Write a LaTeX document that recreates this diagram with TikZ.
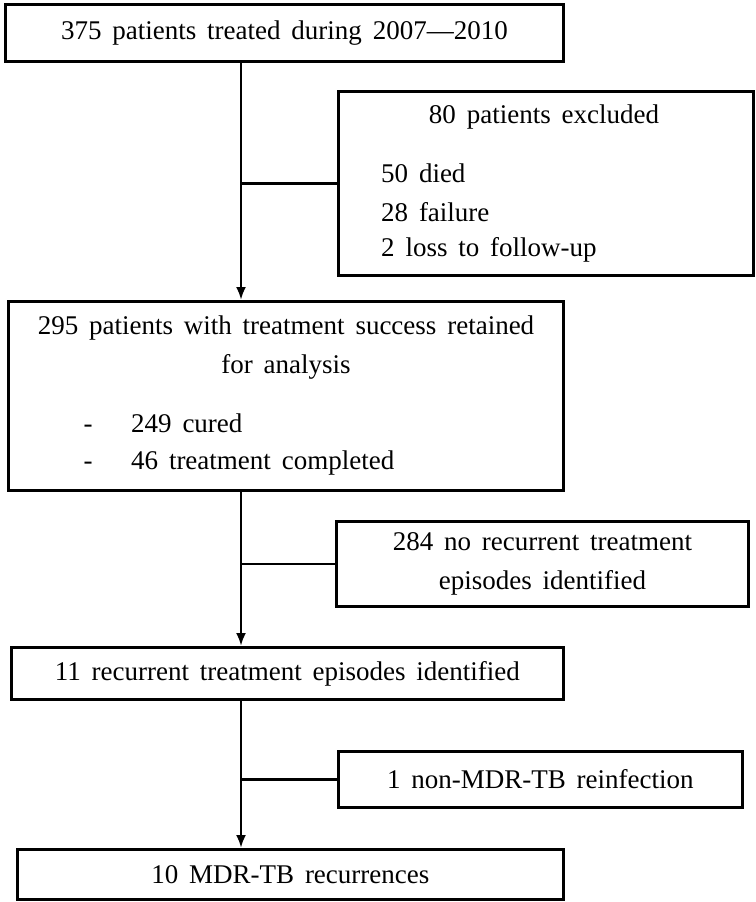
\documentclass[tikz,border=0pt]{standalone}
\usepackage{fontspec}
\setmainfont{Liberation Serif}[WordSpace=1.6]
\usetikzlibrary{arrows.meta}
\tikzset{
  flowbox/.style={draw, line width=2.8pt, inner sep=0pt, align=center,
    font=\fontsize{27}{39}\selectfont},
  flowtext/.style={inner sep=0pt, font=\fontsize{27}{39}\selectfont},
  flowline/.style={line width=2.8pt},
  flowarrow/.style={flowline, -{Latex[length=13pt,width=10pt]}},
}
\begin{document}
\begin{tikzpicture}[x=1pt, y=-1pt]
  \useasboundingbox (0,0) rectangle (755,902);
  % boxes
  \node[flowbox, anchor=north west, minimum width=558pt, minimum height=57pt] (start) at (4,3)
    {375 patients treated during 2007---2010};
  \node[flowbox, anchor=north west, minimum width=415pt, minimum height=184pt] (excluded) at (337,90) {};
  \node[flowbox, anchor=north west, minimum width=555pt, minimum height=189pt] (retained) at (7,300) {};
  \node[flowbox, anchor=north west, minimum width=412pt, minimum height=85pt] (norecur) at (335,520)
    {284 no recurrent treatment\\episodes identified};
  \node[flowbox, anchor=north west, minimum width=552pt, minimum height=52pt] (recur) at (10,646)
    {11 recurrent treatment episodes identified};
  \node[flowbox, anchor=north west, minimum width=404pt, minimum height=56pt] (reinf) at (337,750)
    {1 non-MDR-TB reinfection};
  \node[flowbox, anchor=north west, minimum width=546pt, minimum height=50pt] (mdr) at (16,848)
    {10 MDR-TB recurrences};
  % texts inside the two larger boxes
  \node[flowtext] (exctitle) at (544,117) {80 patients excluded};
  \node[flowtext, anchor=west] (died) at (381,173) {50 died};
  \node[flowtext, anchor=west] (failure) at (381,212) {28 failure};
  \node[flowtext, anchor=west] (loss) at (381,250) {2 loss to follow-up};
  \node[flowtext, align=center] (rettitle) at (286,348) {295 patients with treatment success retained\\for analysis};
  \node[flowtext, anchor=west] (cured) at (131,423) {249 cured};
  \node[flowtext, anchor=west] (completed) at (131,463) {46 treatment completed};
  \node[flowtext, anchor=base] (dashA) at ([xshift=-43pt]cured.base west) {-};
  \node[flowtext, anchor=base] (dashB) at ([xshift=-43pt]completed.base west) {-};
  % connectors
  \coordinate (trunk) at (241,0);
  \draw[flowarrow] (start.south -| trunk) -- (retained.north -| trunk);
  \draw[flowline] (trunk |- excluded.west) -- (excluded.west);
  \draw[flowarrow] (retained.south -| trunk) -- (recur.north -| trunk);
  \draw[flowline] (trunk |- norecur.west) -- (norecur.west);
  \draw[flowarrow] (recur.south -| trunk) -- (mdr.north -| trunk);
  \draw[flowline] (trunk |- reinf.west) -- (reinf.west);
\end{tikzpicture}
\end{document}
